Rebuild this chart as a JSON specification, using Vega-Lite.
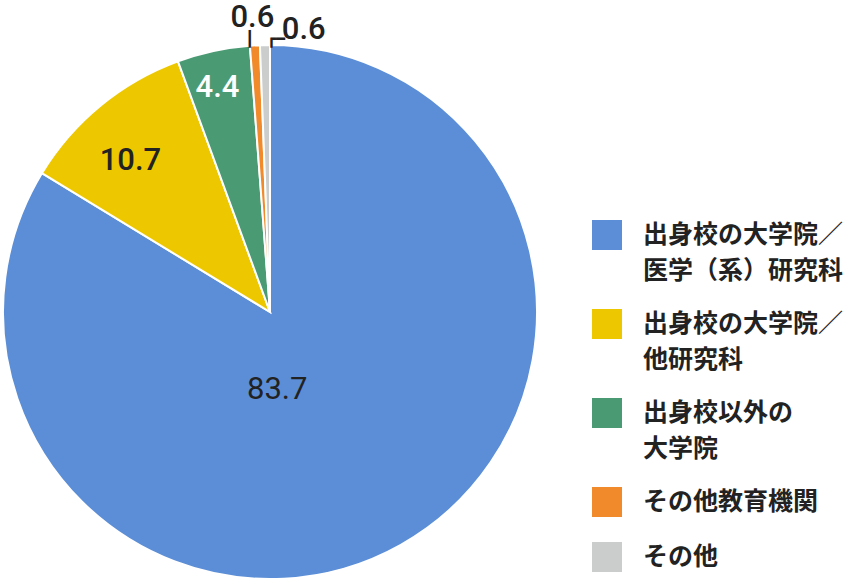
{
  "$schema": "https://vega.github.io/schema/vega-lite/v6.json",
  "width": 540,
  "height": 542,
  "autosize": {"type": "none"},
  "padding": {"top": 41, "left": 0, "right": 328, "bottom": 0},
  "background": "white",
  "data": {
    "values": [
      {"category": "出身校の大学院／\n医学（系）研究科", "value": 83.7, "label": "83.7", "rank": 1},
      {"category": "出身校の大学院／\n他研究科", "value": 10.7, "label": "10.7", "rank": 2},
      {"category": "出身校以外の\n大学院", "value": 4.4, "label": "4.4", "rank": 3},
      {"category": "その他教育機関", "value": 0.6, "label": "0.6", "rank": 4},
      {"category": "その他", "value": 0.6, "label": "0.6", "rank": 5}
    ]
  },
  "encoding": {
    "theta": {"field": "value", "type": "quantitative", "stack": true},
    "order": {"field": "rank", "type": "quantitative"}
  },
  "layer": [
    {
      "mark": {"type": "arc", "outerRadius": 267, "stroke": "white", "strokeWidth": 2},
      "encoding": {
        "color": {
          "field": "category",
          "type": "nominal",
          "scale": {
            "domain": ["出身校の大学院／\n医学（系）研究科", "出身校の大学院／\n他研究科", "出身校以外の\n大学院", "その他教育機関", "その他"],
            "range": ["#5B8ED6", "#EDC800", "#4A9A73", "#F08A2A", "#CBCCCC"]
          },
          "legend": {
            "orient": "none",
            "legendX": 592,
            "legendY": 179,
            "title": null,
            "padding": 0,
            "symbolType": "square",
            "symbolSize": 900,
            "symbolStrokeWidth": 0,
            "symbolOpacity": 1,
            "labelFont": "Noto Sans CJK JP",
            "labelFontSize": 25,
            "labelFontWeight": "bold",
            "labelColor": "#222222",
            "labelOffset": 21,
            "labelLimit": 300,
            "rowPadding": 25,
            "labelExpr": "split(datum.label, '\\n')",
            "encode": {"labels": {"enter": {"lineHeight": {"value": 36}}, "update": {"lineHeight": {"value": 36}}}}
          }
        }
      }
    },
    {
      "mark": {"type": "text", "radius": 80, "dx": -32, "dy": 8, "font": "Roboto", "fontSize": 31, "color": "#222222"},
      "encoding": {"text": {"condition": {"test": "datum.rank == 1", "field": "label"}, "value": ""}}
    },
    {
      "mark": {"type": "text", "radius": 204, "dx": -10, "dy": 7, "font": "Roboto", "fontSize": 31, "fontWeight": 500, "color": "#222222"},
      "encoding": {"text": {"condition": {"test": "datum.rank == 2", "field": "label"}, "value": ""}}
    },
    {
      "mark": {"type": "text", "radius": 229, "dx": -4, "font": "Roboto", "fontSize": 31, "fontWeight": 500, "color": "white"},
      "encoding": {"text": {"condition": {"test": "datum.rank == 3", "field": "label"}, "value": ""}}
    },
    {
      "mark": {"type": "text", "radius": 294, "dx": -1, "font": "Roboto", "fontSize": 31, "fontWeight": 500, "color": "#222222"},
      "encoding": {"text": {"condition": {"test": "datum.rank == 4", "field": "label"}, "value": ""}}
    },
    {
      "mark": {"type": "text", "radius": 282, "dx": 39, "font": "Roboto", "fontSize": 31, "fontWeight": 500, "color": "#222222"},
      "encoding": {"text": {"condition": {"test": "datum.rank == 5", "field": "label"}, "value": ""}}
    },
    {
      "mark": {"type": "text", "radius": 273, "dx": -5, "font": "DejaVu Sans Mono", "fontSize": 15, "color": "#222222"},
      "encoding": {"text": {"condition": {"test": "datum.rank == 4", "value": "┃"}, "value": ""}}
    },
    {
      "mark": {"type": "text", "radius": 273, "dx": 2, "align": "left", "font": "DejaVu Sans Mono", "fontSize": 15, "color": "#222222"},
      "encoding": {"text": {"condition": {"test": "datum.rank == 5", "value": "┏━"}, "value": ""}}
    }
  ],
  "config": {"view": {"stroke": null}, "style": {"guide-label": {"lineHeight": 36}}}
}
